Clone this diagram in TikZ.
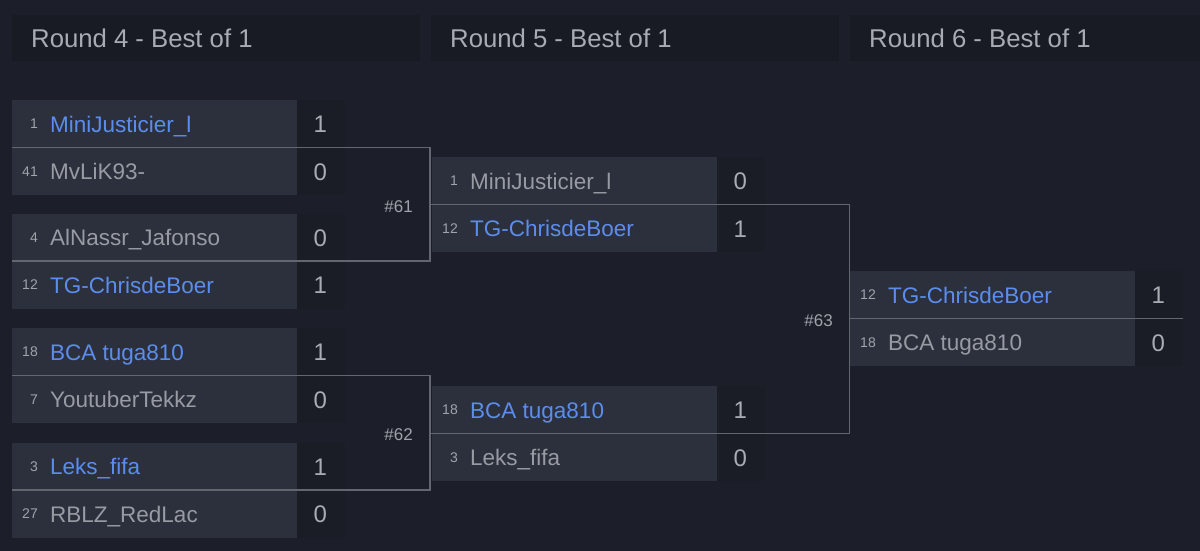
\documentclass[tikz,border=0pt]{standalone}
\usepackage{fontspec}
\setmainfont{Liberation Sans}
\definecolor{bgc}{HTML}{1C1F2A}
\definecolor{hdrc}{HTML}{181B24}
\definecolor{namec}{HTML}{2C303C}
\definecolor{scorec}{HTML}{1A1D26}
\definecolor{linec}{HTML}{62666F}
\definecolor{winc}{HTML}{5B8DEE}
\definecolor{losec}{HTML}{989BA3}
\definecolor{seedc}{HTML}{A0A3AA}
\definecolor{scoretc}{HTML}{A9ACB2}
\definecolor{hdrtc}{HTML}{A8ABB1}
\tikzset{
  namebox/.style={fill=namec, draw=none, inner sep=0, minimum width=285pt, minimum height=47.5pt, anchor=north west},
  scorebox/.style={fill=scorec, draw=none, inner sep=0, minimum width=48pt, minimum height=47.5pt, anchor=north west},
  hdrbox/.style={fill=hdrc, draw=none, inner sep=0, minimum width=408pt, minimum height=46pt, anchor=north west},
  hdrtxt/.style={text=hdrtc, font=\fontsize{25.7}{30}\selectfont, inner sep=0, text height=18.4pt, text depth=0pt, anchor=west},
  seedtxt/.style={text=seedc, font=\fontsize{14}{16}\selectfont, inner sep=0, text height=10pt, text depth=0pt, anchor=east},
  wintxt/.style={text=winc, font=\fontsize{22.5}{27}\selectfont, inner sep=0, text height=16.1pt, text depth=0pt, anchor=west},
  losetxt/.style={text=losec, font=\fontsize{22.5}{27}\selectfont, inner sep=0, text height=16.1pt, text depth=0pt, anchor=west},
  scoretxt/.style={text=scoretc, font=\fontsize{24}{28}\selectfont, inner sep=0, text height=17.2pt, text depth=0pt},
  matchlbl/.style={text=seedc, font=\fontsize{17}{20}\selectfont, inner sep=0, text height=12.2pt, text depth=0pt, anchor=east},
  bracket/.style={draw=linec, line width=1.3pt}
}
% #1 id, #2 x, #3 ytop, #4 seed, #5 player, #6 score, #7 style
\newcommand\prow[7]{%
  \node[namebox] (#1) at (#2,#3) {};
  \node[scorebox] (#1s) at (#2+285,#3) {};
  \node[seedtxt] (#1d) at ([xshift=26pt]#1.west) {#4};
  \node[#7] (#1n) at ([xshift=38pt]#1.west) {#5};
  \node[scoretxt] (#1v) at ([xshift=-1pt]#1s.center) {#6};
}
\begin{document}
\begin{tikzpicture}[x=1pt,y=-1pt]
\fill[bgc] (0,0) rectangle (1200,551);
\useasboundingbox (0,0) rectangle (1200,551);
% headers
\node[hdrbox] (h4) at (12,15) {};
\node[hdrbox] (h5) at (431,15) {};
\begin{scope}
\clip (0,0) rectangle (1200,551);
\node[hdrbox] (h6) at (850,15) {};
\end{scope}
\node[hdrtxt] (h4t) at (31,38) {Round 4 - Best of 1};
\node[hdrtxt] (h5t) at (450,38) {Round 5 - Best of 1};
\node[hdrtxt] (h6t) at (869,38) {Round 6 - Best of 1};
% round 4
\prow{m1a}{12}{100}{1}{MiniJusticier\_l}{1}{wintxt}
\prow{m1b}{12}{147.5}{41}{MvLiK93-}{0}{losetxt}
\prow{m2a}{12}{213.5}{4}{AlNassr\_Jafonso}{0}{losetxt}
\prow{m2b}{12}{261}{12}{TG-ChrisdeBoer}{1}{wintxt}
\prow{m3a}{12}{328}{18}{BCA tuga810}{1}{wintxt}
\prow{m3b}{12}{375.5}{7}{YoutuberTekkz}{0}{losetxt}
\prow{m4a}{12}{442.5}{3}{Leks\_fifa}{1}{wintxt}
\prow{m4b}{12}{490}{27}{RBLZ\_RedLac}{0}{losetxt}
% round 5
\prow{r5a}{432}{157}{1}{MiniJusticier\_l}{0}{losetxt}
\prow{r5b}{432}{204.5}{12}{TG-ChrisdeBoer}{1}{wintxt}
\prow{r5c}{432}{386}{18}{BCA tuga810}{1}{wintxt}
\prow{r5d}{432}{433.5}{3}{Leks\_fifa}{0}{losetxt}
% round 6
\prow{r6a}{850}{271}{12}{TG-ChrisdeBoer}{1}{wintxt}
\prow{r6b}{850}{318.5}{18}{BCA tuga810}{0}{losetxt}
% bracket joints
\coordinate (j61) at (430,147.5);
\coordinate (j62) at (430,375.5);
\coordinate (j63) at (849.5,204.5);
% brackets
\draw[bracket] (m1b.north west) -- (j61) |- (m2b.north west);
\draw[bracket] (m3b.north west) -- (j62) |- (m4b.north west);
\draw[bracket] (r5b.north west -| j61) -- (j63) |- (r5d.north west -| j61);
\draw[bracket] (r6b.north west) -- (r6b.north west -| r6bs.east);
% match labels
\node[matchlbl] (l61) at (413,206) {\#61};
\node[matchlbl] (l62) at (413,434) {\#62};
\node[matchlbl] (l63) at (833,320) {\#63};
\end{tikzpicture}
\end{document}
